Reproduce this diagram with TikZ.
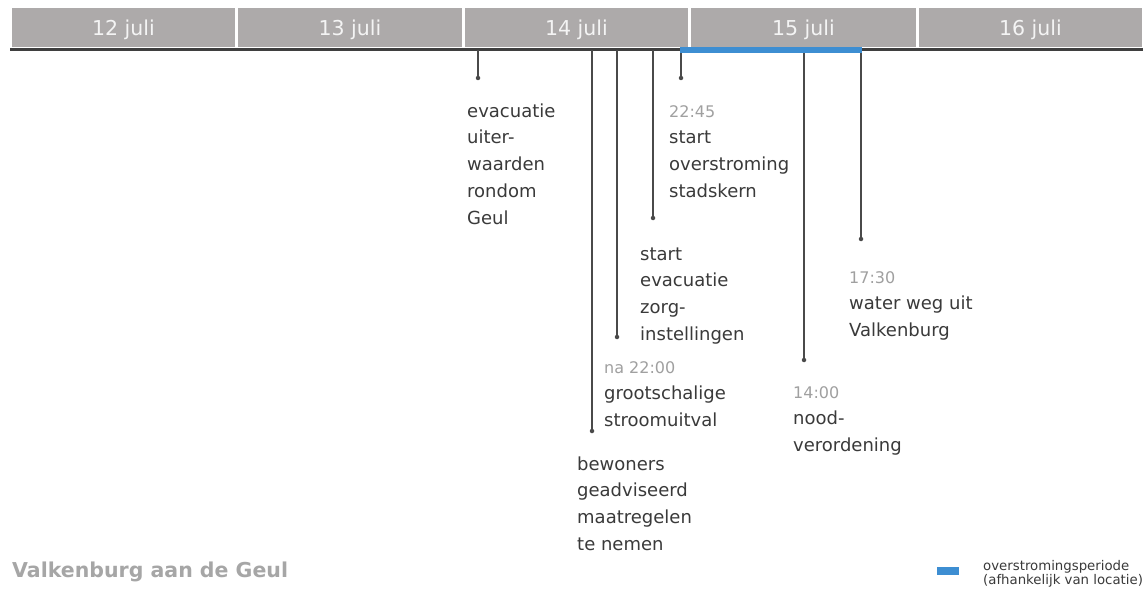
\documentclass[tikz,border=0pt]{standalone}
\usepackage{fontspec}
\setmainfont{DejaVu Sans}
\definecolor{barfill}{HTML}{ADAAAA}
\definecolor{daytext}{HTML}{F4F4F4}
\definecolor{bodytext}{HTML}{3A3A3A}
\definecolor{timetext}{HTML}{A0A0A0}
\definecolor{titletext}{HTML}{A6A6A6}
\definecolor{floodblue}{HTML}{3D8ED2}
\definecolor{stemcol}{HTML}{4A4A4A}
\tikzset{
  daybox/.style={fill=barfill, draw=none, minimum height=39pt, inner sep=0pt},
  daylabel/.style={text=daytext, font=\fontsize{20.5}{24}\selectfont, anchor=base, inner sep=0pt},
  stem/.style={draw=stemcol, line width=1.4pt},
  stemdot/.style={circle, fill=stemcol, inner sep=0pt, minimum size=4.5pt},
  event/.style={text=bodytext, font=\fontsize{18}{26.7}\selectfont, align=left, anchor=north west, inner sep=0pt},
}
\newcommand{\evstrut}{\rule{0pt}{14pt}}
\newcommand{\tstamp}[1]{{\color{timetext}\fontsize{16}{26.7}\selectfont #1}}
\begin{document}
\begin{tikzpicture}[x=1pt,y=-1pt]
\useasboundingbox (0,0) rectangle (1146,591);
\fill[white] (0,0) rectangle (1146,591);
% header day boxes
\node[daybox, minimum width=223pt] (d12) at (123.5,27.5) {};
\node[daybox, minimum width=224pt] (d13) at (350,27.5) {};
\node[daybox, minimum width=223pt] (d14) at (576.5,27.5) {};
\node[daybox, minimum width=225pt] (d15) at (803.5,27.5) {};
\node[daybox, minimum width=223pt] (d16) at (1030.5,27.5) {};
\node[daylabel] (l12) at (123.5,36) {12 juli};
\node[daylabel] (l13) at (350,36) {13 juli};
\node[daylabel] (l14) at (576.5,36) {14 juli};
\node[daylabel] (l15) at (803.5,36) {15 juli};
\node[daylabel] (l16) at (1030.5,36) {16 juli};
% baseline
\coordinate (axL) at (10,49.5);
\coordinate (axR) at (1143,49.5);
\draw[draw=stemcol!85!black, line width=2.4pt] (axL) -- (axR);
% flood period
\coordinate (flS) at (680,50.5);
\coordinate (flE) at (861.5,50.5);
\draw[draw=floodblue, line width=6pt] (flS) -- (flE);
% stems
\coordinate (s1) at (478,50);  \node[stemdot] (p1) at (478,78) {};
\coordinate (s2) at (592,50);  \node[stemdot] (p2) at (592,431) {};
\coordinate (s3) at (617,50);  \node[stemdot] (p3) at (617,337) {};
\coordinate (s4) at (653,50);  \node[stemdot] (p4) at (653,218) {};
\coordinate (s5) at (681,53);  \node[stemdot] (p5) at (681,78) {};
\coordinate (s6) at (804,53);  \node[stemdot] (p6) at (804,360) {};
\coordinate (s7) at (861,53);  \node[stemdot] (p7) at (861,239) {};
\draw[stem] (s1) -- (p1.center);
\draw[stem] (s2) -- (p2.center);
\draw[stem] (s3) -- (p3.center);
\draw[stem] (s4) -- (p4.center);
\draw[stem] (s5) -- (p5.center);
\draw[stem] (s6) -- (p6.center);
\draw[stem] (s7) -- (p7.center);
% events (anchor = first baseline - 14)
\node[event] (e1) at (467,103) {\evstrut evacuatie\\uiter-\\waarden\\rondom\\Geul};
\node[event] (e2) at (577,456) {\evstrut bewoners\\geadviseerd\\maatregelen\\te nemen};
\node[event] (e3) at (604,359) {\evstrut\tstamp{na 22:00}\\grootschalige\\stroomuitval};
\node[event] (e4) at (640,246) {\evstrut start\\evacuatie\\zorg-\\instellingen};
\node[event] (e5) at (669,103) {\evstrut\tstamp{22:45}\\start\\overstroming\\stadskern};
\node[event] (e6) at (793,384) {\evstrut\tstamp{14:00}\\nood-\\verordening};
\node[event] (e7) at (849,269) {\evstrut\tstamp{17:30}\\water weg uit\\Valkenburg};
% title
\node[text=titletext, font=\bfseries\fontsize{20.5}{24}\selectfont, anchor=base west, inner sep=0pt] (title) at (12,577) {Valkenburg aan de Geul};
% legend
\node[fill=floodblue, minimum width=22pt, minimum height=8pt, inner sep=0pt] (legbox) at (948,571) {};
\node[text=bodytext, font=\fontsize{13.3}{14}\selectfont, align=left, anchor=north west, inner sep=0pt] (legtext) at (983,559) {\rule{0pt}{11pt}overstromingsperiode\\(afhankelijk van locatie)};
\end{tikzpicture}
\end{document}
